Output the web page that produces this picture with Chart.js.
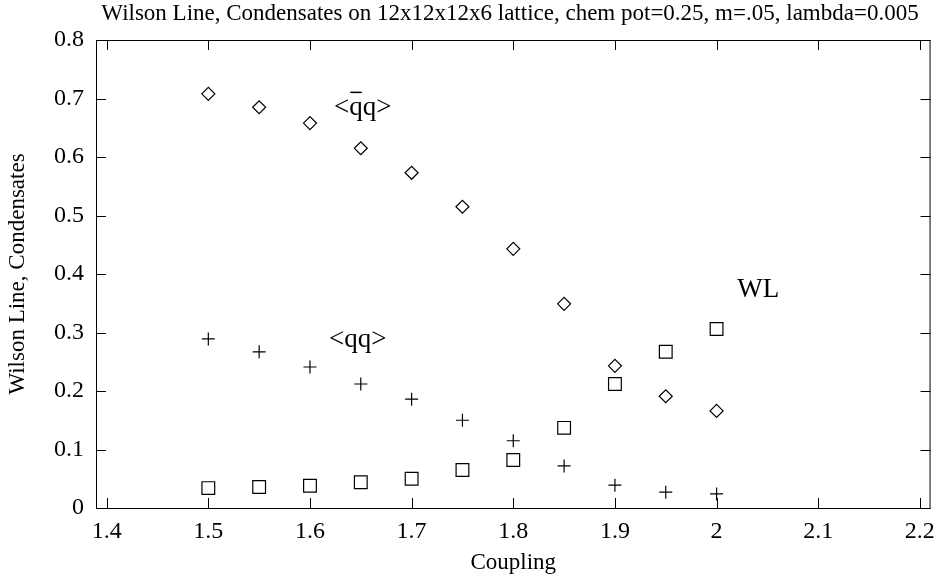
<!DOCTYPE html>
<html>
<head>
<meta charset="utf-8">
<script src="https://cdn.jsdelivr.net/npm/chart.js"></script>
<style>
  html, body { margin: 0; padding: 0; background: #fff; }
  #wrap { width: 944px; height: 580px; }
</style>
</head>
<body>
<div id="wrap"><canvas id="chart" width="944" height="580"></canvas></div>
<script>
const coupling = [1.5, 1.55, 1.6, 1.65, 1.7, 1.75, 1.8, 1.85, 1.9, 1.95, 2.0];
const qbarq = [0.708, 0.685, 0.658, 0.615, 0.573, 0.515, 0.443, 0.349, 0.243, 0.191, 0.166];
const qq = [0.289, 0.267, 0.241, 0.212, 0.186, 0.150, 0.115, 0.072, 0.039, 0.027, 0.024];
const wilsonLine = [0.034, 0.036, 0.038, 0.044, 0.050, 0.065, 0.082, 0.137, 0.212, 0.267, 0.306];
const xTicks = [1.4, 1.5, 1.6, 1.7, 1.8, 1.9, 2.0, 2.1, 2.2];
const yTicks = [0, 0.1, 0.2, 0.3, 0.4, 0.5, 0.6, 0.7, 0.8];

const FONT = '"Liberation Serif", "Times New Roman", serif';

function pts(ys) {
  return coupling.map((x, i) => ({ x: x, y: ys[i] }));
}

// inward tick marks on all four sides, gnuplot style
const frameTicks = {
  id: 'frameTicks',
  afterDraw(chart) {
    const { ctx, chartArea: a } = chart;
    const xs = chart.scales.x, ys = chart.scales.y;
    ctx.save();
    ctx.strokeStyle = '#000';
    ctx.lineWidth = 1;
    ctx.beginPath();
    xTicks.forEach(v => {
      const px = Math.round(xs.getPixelForValue(v)) + 0.5;
      ctx.moveTo(px, a.bottom); ctx.lineTo(px, a.bottom - 10);
      ctx.moveTo(px, a.top); ctx.lineTo(px, a.top + 10);
    });
    yTicks.forEach(v => {
      const py = Math.round(ys.getPixelForValue(v)) + 0.5;
      ctx.moveTo(a.left, py); ctx.lineTo(a.left + 10, py);
      ctx.moveTo(a.right, py); ctx.lineTo(a.right - 10, py);
    });
    ctx.stroke();
    ctx.strokeRect(a.left + 0.5, a.top + 0.5, a.right - a.left - 1, a.bottom - a.top);
    ctx.restore();
  }
};

// curve labels and title
const labels = {
  id: 'labels',
  afterDraw(chart) {
    const { ctx } = chart;
    const xs = chart.scales.x, ys = chart.scales.y;
    ctx.save();
    ctx.fillStyle = '#000';
    ctx.strokeStyle = '#000';
    ctx.textBaseline = 'middle';
    ctx.textAlign = 'center';
    ctx.font = '23px ' + FONT;
    ctx.fillText('Wilson Line, Condensates on 12x12x12x6 lattice, chem pot=0.25, m=.05, lambda=0.005', 510, 14);

    ctx.textAlign = 'left';
    ctx.font = '27px ' + FONT;
    let x = xs.getPixelForValue(1.6237), y = ys.getPixelForValue(0.684);
    ctx.fillText('<qq>', x, y);
    const w0 = ctx.measureText('<').width, w1 = ctx.measureText('q').width;
    ctx.beginPath();
    ctx.moveTo(x + w0 + 1, y - 15.5);
    ctx.lineTo(x + w0 + w1 - 1, y - 15.5);
    ctx.lineWidth = 1.5;
    ctx.stroke();

    ctx.fillText('<qq>', xs.getPixelForValue(1.6188), ys.getPixelForValue(0.287));
    ctx.fillText('WL', xs.getPixelForValue(2.0204), ys.getPixelForValue(0.373));
    ctx.restore();
  }
};

const common = {
  showLine: false,
  borderColor: '#000',
  backgroundColor: 'rgba(0,0,0,0)',
  borderWidth: 1.2,
  pointHoverRadius: 6
};

new Chart(document.getElementById('chart').getContext('2d'), {
  type: 'scatter',
  data: {
    datasets: [
      Object.assign({ label: '<qbar q>', data: pts(qbarq), pointStyle: 'rectRot', pointRadius: 6.5 }, common),
      Object.assign({ label: '<qq>', data: pts(qq), pointStyle: 'cross', pointRadius: 6.5 }, common),
      Object.assign({ label: 'WL', data: pts(wilsonLine), pointStyle: 'rect', pointRadius: 9 }, common)
    ]
  },
  options: {
    responsive: false,
    animation: false,
    layout: { padding: { top: 40, right: 10, left: 0, bottom: 0 } },
    plugins: {
      legend: { display: false },
      title: { display: false },
      tooltip: { enabled: false }
    },
    scales: {
      x: {
        type: 'linear',
        min: 1.3895,
        max: 2.2105,
        afterBuildTicks(scale) { scale.ticks = xTicks.map(v => ({ value: v })); },
        afterFit(scale) { scale.height = 72; },
        grid: { display: false, drawTicks: false },
        border: { display: false },
        ticks: {
          color: '#000',
          padding: 9,
          maxRotation: 0,
          font: { family: FONT, size: 24 },
          callback: v => String(Math.round(v * 10) / 10)
        },
        title: {
          display: true,
          text: 'Coupling',
          color: '#000',
          padding: { top: 0, bottom: 3 },
          font: { family: FONT, size: 23 }
        }
      },
      y: {
        type: 'linear',
        min: 0,
        max: 0.8,
        afterBuildTicks(scale) { scale.ticks = yTicks.map(v => ({ value: v })); },
        afterFit(scale) { scale.width = 96; },
        grid: { display: false, drawTicks: false },
        border: { display: false },
        ticks: {
          color: '#000',
          padding: 12,
          font: { family: FONT, size: 24 },
          callback: v => String(Math.round(v * 10) / 10)
        },
        title: {
          display: true,
          text: 'Wilson Line, Condensates',
          color: '#000',
          padding: { top: 4, bottom: 0 },
          font: { family: FONT, size: 23 }
        }
      }
    }
  },
  plugins: [frameTicks, labels]
});
</script>
</body>
</html>
